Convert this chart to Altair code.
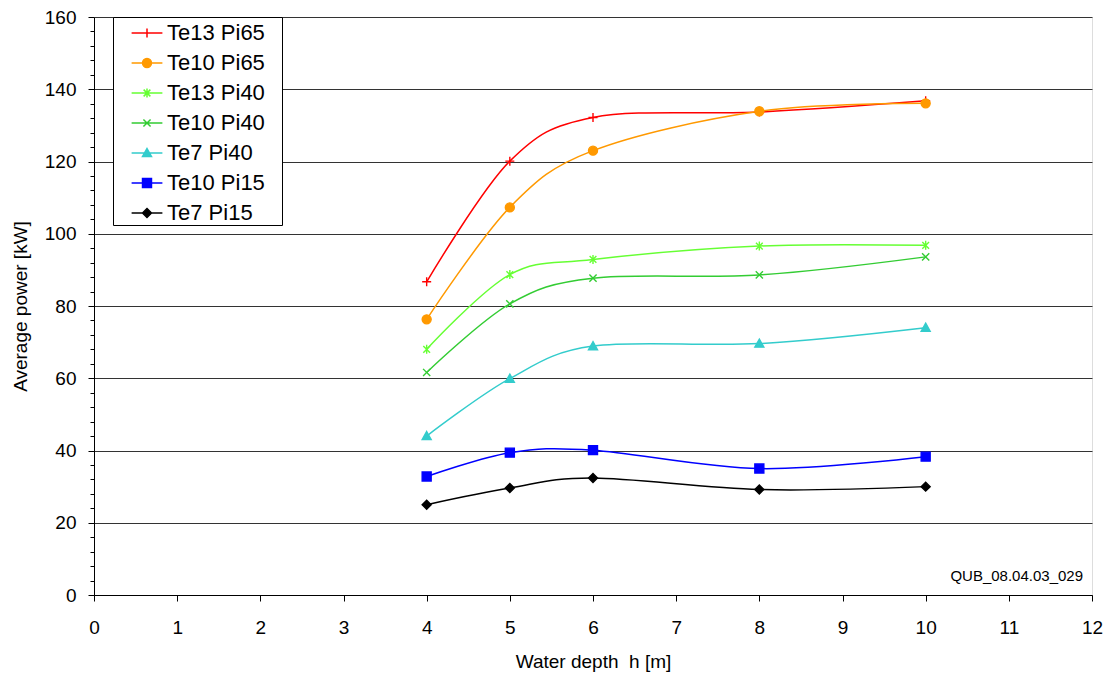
import altair as alt
import pandas as pd

# ---------------- data ----------------
depth = [4, 5, 6, 8, 10]
series_names = ["Te13 Pi65", "Te10 Pi65", "Te13 Pi40", "Te10 Pi40",
                "Te7 Pi40", "Te10 Pi15", "Te7 Pi15"]
te13_pi65 = [86.7, 120.1, 132.2, 133.7, 136.8]
te10_pi65 = [76.3, 107.3, 123.0, 133.9, 136.1]
te13_pi40 = [68.0, 88.7, 92.9, 96.6, 96.8]
te10_pi40 = [61.6, 80.6, 87.7, 88.6, 93.6]
te7_pi40 = [44.0, 59.9, 68.9, 69.6, 74.0]
te10_pi15 = [32.8, 39.4, 40.1, 35.0, 38.3]
te7_pi15 = [25.0, 29.6, 32.4, 29.2, 30.0]
series_values = [te13_pi65, te10_pi65, te13_pi40, te10_pi40,
                 te7_pi40, te10_pi15, te7_pi15]

x_ticks = [0, 1, 2, 3, 4, 5, 6, 7, 8, 9, 10, 11, 12]
y_ticks = list(range(0, 161, 4))
watermark = ["QUB_08.04.03_029"]

# ---------------- styles ----------------
colors = ["#FF0000", "#FF9900", "#66FF33", "#33CC33", "#33CCCC", "#0000FF", "#000000"]


def f(v):
    return f"{round(v, 3)}"


def plus(k):
    return f"M{f(-k)},0H{f(k)}M0,{f(-k)}V{f(k)}"


def circle(k):
    return f"M{f(k)},0A{f(k)},{f(k)} 0 1 1 {f(-k)},0A{f(k)},{f(k)} 0 1 1 {f(k)},0Z"


def star(k):
    d = 0.75 * k
    return f"M{f(-d)},{f(-d)}L{f(d)},{f(d)}M{f(-d)},{f(d)}L{f(d)},{f(-d)}M0,{f(-k)}V{f(k)}"


def cross(k):
    d = 0.8 * k
    return f"M{f(-d)},{f(-d)}L{f(d)},{f(d)}M{f(-d)},{f(d)}L{f(d)},{f(-d)}"


def triangle(k):
    return f"M0,{f(-k)}L{f(k)},{f(0.8 * k)}L{f(-k)},{f(0.8 * k)}Z"


def square(k):
    return f"M{f(-k)},{f(-k)}H{f(k)}V{f(k)}H{f(-k)}Z"


def diamond(k):
    return f"M0,{f(-k)}L{f(k)},0L0,{f(k)}L{f(-k)},0Z"


marker_funcs = [plus, circle, star, cross, triangle, square, diamond]
marker_paths = [m(0.9) for m in marker_funcs]
legend_paths = ["M-1.1,0H1.1" + m(0.32) for m in marker_funcs]

FONT = "Liberation Sans"

# ---------------- table ----------------
rows = []
for name, vals in zip(series_names, series_values):
    for xv, yv in zip(depth, vals):
        rows.append({"series": name, "depth": xv, "power": yv})
df = pd.DataFrame(rows)

x_scale = alt.Scale(domain=[0, 12], nice=False, zero=False)
y_scale = alt.Scale(domain=[0, 160], nice=False)

x_axis = alt.Axis(
    values=x_ticks, format="d", title="Water depth\u00a0 h [m]", grid=False,
    tickSize=6, labelPadding=17, titlePadding=15,
    labelFontSize=19, titleFontSize=19, titleFontWeight="normal",
    domainColor="#000000", tickColor="#000000", labelColor="#000000",
    titleColor="#000000", labelFlush=False, labelOverlap=False,
)
y_axis = alt.Axis(
    values=y_ticks, format="d", title="Average power [kW]",
    labelExpr="datum.value % 20 === 0 ? datum.label : ''",
    tickSize={"condition": {"test": "datum.value % 20 === 0", "value": 6}, "value": 4},
    gridOpacity={"condition": {"test": "datum.value % 20 === 0", "value": 1}, "value": 0},
    gridColor="#333333", gridWidth=1,
    labelPadding=12, titlePadding=14, labelOverlap=False,
    labelFontSize=19, titleFontSize=19, titleFontWeight="normal",
    domainColor="#000000", tickColor="#000000", labelColor="#000000",
    titleColor="#000000", labelFlush=False,
)

x_enc = alt.X("depth:Q", scale=x_scale, axis=x_axis)
y_enc = alt.Y("power:Q", scale=y_scale, axis=y_axis)

color_scale = alt.Scale(domain=series_names, range=colors)

base = alt.Chart(df)

lines = base.mark_line(interpolate="cardinal", strokeWidth=1.5).encode(
    x=x_enc, y=y_enc,
    color=alt.Color("series:N", scale=color_scale, legend=None),
)

points = base.mark_point(size=100, strokeWidth=1.4, opacity=1).encode(
    x=x_enc, y=y_enc,
    shape=alt.Shape("series:N", scale=alt.Scale(domain=series_names, range=marker_paths), legend=None),
    fill=alt.Fill("series:N", scale=color_scale, legend=None),
    stroke=alt.Stroke("series:N", scale=color_scale, legend=None),
)

legend = alt.Legend(
    title=None, orient="none", legendX=19, legendY=0, padding=1,
    strokeColor="#000000", fillColor="#ffffff",
    symbolSize=784, symbolStrokeWidth=1.5, symbolOffset=18, labelOffset=5,
    labelFontSize=22, labelFont=FONT, labelColor="#000000",
    rowPadding=4, labelExpr="datum.label + '\u2800'", symbolOpacity=1,
    cornerRadius=0,
)

legend_layer = base.transform_filter("datum.depth < 0").mark_point(opacity=1, size=784).encode(
    x=x_enc, y=y_enc,
    shape=alt.Shape("series:N", scale=alt.Scale(domain=series_names, range=legend_paths), legend=legend),
    fill=alt.Fill("series:N", scale=alt.Scale(domain=series_names, range=colors), legend=legend),
    stroke=alt.Stroke("series:N", scale=alt.Scale(domain=series_names, range=colors), legend=legend),
)

text = alt.Chart(pd.DataFrame({"label": watermark})).mark_text(
    align="right", baseline="alphabetic", dx=-9, dy=-14, fontSize=15, font=FONT, color="#000000"
).encode(
    x=alt.X(datum=12, type="quantitative", scale=x_scale, axis=x_axis),
    y=alt.Y(datum=0, type="quantitative", scale=y_scale, axis=y_axis),
    text="label:N",
)

chart = alt.layer(lines, points, legend_layer, text).resolve_scale(
    shape="independent", fill="independent", stroke="independent"
).properties(
    width=998, height=578,
    autosize=alt.AutoSizeParams(type="none"),
    padding={"left": 94, "top": 17, "right": 19, "bottom": 84},
    background="#ffffff",
).configure_view(
    stroke="#808080", strokeWidth=1
).configure(font=FONT)

chart.save("out.html", embed_options={"renderer": "svg", "actions": False})
